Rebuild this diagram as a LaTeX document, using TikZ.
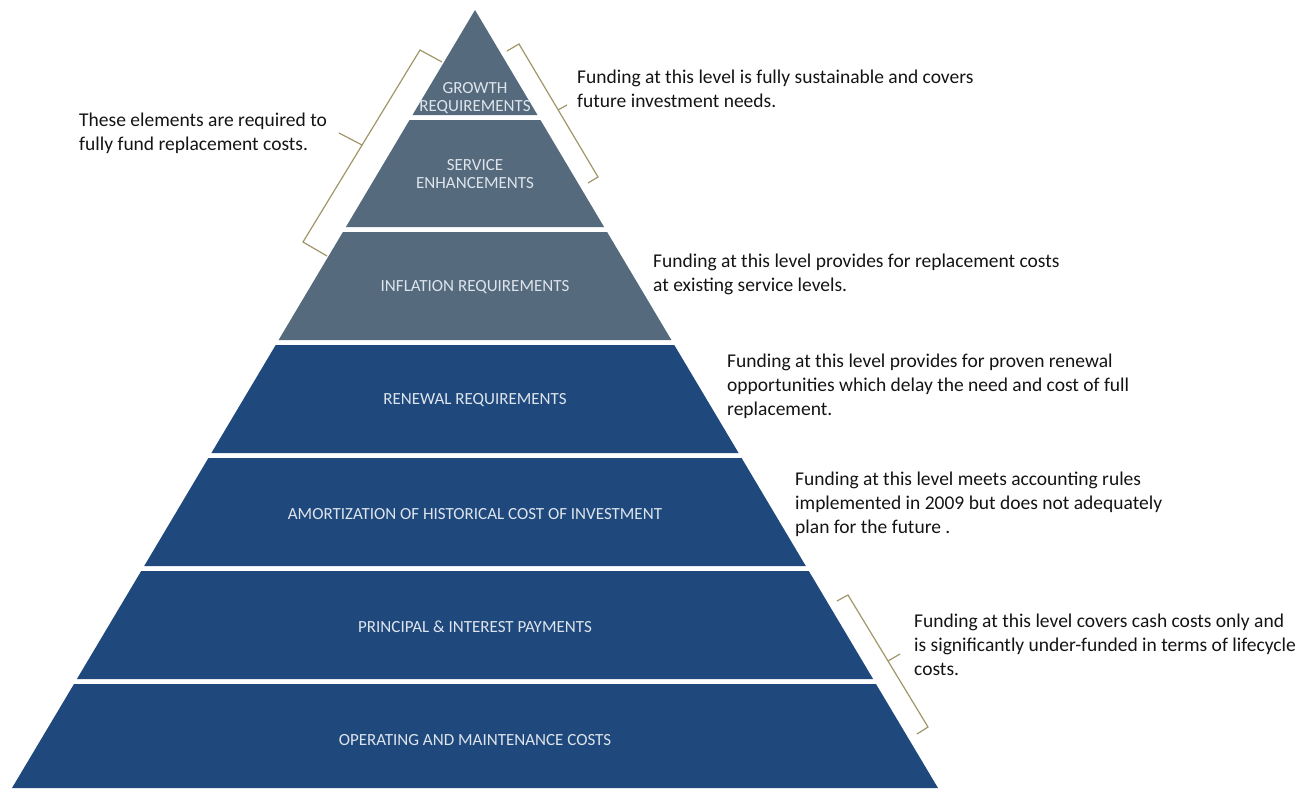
\documentclass[tikz,border=0pt]{standalone}
\usepackage{fontspec}
\setmainfont{Carlito}
\definecolor{slate}{RGB}{85,106,124}
\definecolor{navy}{RGB}{31,73,125}
\definecolor{lbl}{RGB}{222,228,236}
\definecolor{brk}{RGB}{160,150,105}
\definecolor{ann}{RGB}{20,20,20}
\tikzset{
  layerlbl/.style={text=lbl, font=\fontsize{17}{18}\selectfont, align=center, inner sep=0pt},
  annot/.style={text=ann, font=\fontsize{19.5}{24}\selectfont, align=left, anchor=west, inner sep=0pt},
  bracket/.style={draw=brk, line width=1.2pt, line join=miter}
}
\begin{document}
\begin{tikzpicture}[x=1pt,y=-1pt]
\useasboundingbox (0,0) rectangle (1310,788);
% layers: half width = 0.595*(y-10), centre x=475
\fill[slate] (475,10) -- (537.5,115) -- (412.5,115) -- cycle;
\fill[slate] (409.55,120) -- (540.45,120) -- (604.1,227) -- (345.9,227) -- cycle;
\fill[slate] (342.9,232) -- (607.1,232) -- (671.4,340) -- (278.6,340) -- cycle;
\fill[navy] (275.7,345) -- (674.3,345) -- (738.6,453) -- (211.4,453) -- cycle;
\fill[navy] (208.4,458) -- (741.6,458) -- (805.8,566) -- (144.2,566) -- cycle;
\fill[navy] (141.2,571) -- (808.8,571) -- (873.1,679) -- (76.9,679) -- cycle;
\fill[navy] (74.0,684) -- (876.0,684) -- (938,788) -- (12,788) -- cycle;
% labels
\node[layerlbl] (growth) at (475,98.5) {GROWTH\\REQUIREMENTS};
\node[layerlbl] (service) at (475,174.5) {SERVICE\\ENHANCEMENTS};
\node[layerlbl] (inflation) at (475,287.5) {INFLATION REQUIREMENTS};
\node[layerlbl] (renewal) at (475,400.5) {RENEWAL REQUIREMENTS};
\node[layerlbl] (amort) at (475,514.5) {AMORTIZATION OF HISTORICAL COST OF INVESTMENT};
\node[layerlbl] (principal) at (475,626.5) {PRINCIPAL \& INTEREST PAYMENTS};
\node[layerlbl] (operating) at (475,740.5) {OPERATING AND MAINTENANCE COSTS};
% annotations
\node[annot] (a1) at (79,133) {These elements are required to\\fully fund replacement costs.};
\node[annot] (a2) at (577,89) {Funding at this level is fully sustainable and covers\\future investment needs.};
\node[annot] (a3) at (653,274.5) {Funding at this level provides for replacement costs\\at existing service levels.};
\node[annot] (a4) at (727,386) {Funding at this level provides for proven renewal\\opportunities which delay the need and cost of full\\replacement.};
\node[annot] (a5) at (795,504) {Funding at this level meets accounting rules\\implemented in 2009 but does not adequately\\plan for the future .};
\node[annot] (a6) at (914,645) {Funding at this level covers cash costs only and\\is significantly under-funded in terms of lifecycle\\costs.};
% brackets
\draw[bracket] (442,62) -- (420,50) -- (303,242) -- (327,256);
\draw[bracket] (362,145) -- (339,133);
\draw[bracket] (507,51) -- (519,44) -- (598,177) -- (588,183);
\draw[bracket] (558,110) -- (567,105);
\draw[bracket] (837,601) -- (848,595) -- (928,727) -- (917,734);
\draw[bracket] (888,661) -- (900,654);
\end{tikzpicture}
\end{document}
